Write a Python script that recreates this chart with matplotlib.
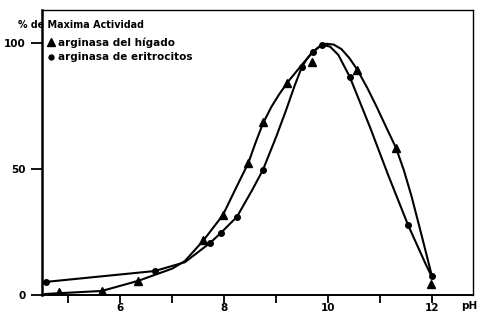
import matplotlib
matplotlib.use('Agg')
import matplotlib.pyplot as plt
from matplotlib.lines import Line2D

liver_ph = [4.82, 5.64, 6.34, 7.59, 7.97, 8.46, 8.74, 9.20, 9.68, 10.55, 11.30, 11.97]
liver_pct = [1.2, 1.6, 5.6, 21.8, 31.7, 52.4, 68.7, 84.0, 92.5, 89.3, 58.3, 4.5]
eryth_ph = [4.57, 6.66, 7.72, 7.93, 8.24, 8.74, 9.49, 9.70, 9.87, 10.41, 11.53, 12.0]
eryth_pct = [5.2, 9.5, 20.6, 24.6, 31.0, 49.6, 90.5, 96.4, 99.2, 86.5, 27.8, 7.5]

# hand drawn curves through the points, also
liver_curve_ph = [4.55, 5.64, 6.34, 7.0, 7.24, 7.59, 7.97, 8.2, 8.46, 8.6, 8.74, 8.9,
                  9.05, 9.22, 9.49, 9.70, 9.87, 9.95, 10.1, 10.25, 10.4, 10.55, 10.75,
                  10.93, 11.1, 11.3, 11.45, 11.6, 11.8, 12.0]
liver_curve_pct = [0.4, 1.6, 5.6, 10.5, 13.5, 21.5, 31.7, 41.5, 52.4, 60.5, 68.0, 74.5,
                   79.5, 84.5, 91.3, 96.4, 99.2, 99.6, 99.3, 97.5, 94.0, 89.5, 82.0,
                   74.5, 67.0, 58.3, 49.5, 39.0, 23.0, 6.7]
eryth_curve_ph = [4.5, 4.57, 6.66, 7.24, 7.72, 7.93, 8.24, 8.53, 8.74, 9.0, 9.18, 9.35,
                  9.49, 9.6, 9.70, 9.87, 10.03, 10.19, 10.41, 10.8, 11.15, 11.53, 11.86, 12.0]
eryth_curve_pct = [5.0, 5.2, 9.5, 13.0, 20.6, 24.6, 31.0, 41.5, 49.6, 63.0, 73.0, 83.0,
                   90.5, 94.0, 96.4, 99.2, 98.5, 95.2, 86.5, 66.5, 47.5, 27.8, 12.7, 6.7]

x_ticks = [5, 6, 7, 8, 9, 10, 11, 12]
x_labels = ['', '6', '', '8', '', '10', '', '12']
y_ticks = [0, 50, 100]
labels = ['arginasa del hígado', 'arginasa de eritrocitos']

plt.rcParams['font.family'] = ['DejaVu Sans']
plt.rcParams['font.weight'] = 'bold'

fig = plt.figure(figsize=(4.78, 3.22), dpi=100)
ax = fig.add_axes([0.0889, 0.0839, 0.9006, 0.885])

ax.plot(liver_curve_ph, liver_curve_pct, color='black', lw=1.5, solid_joinstyle='round')
ax.plot(eryth_curve_ph, eryth_curve_pct, color='black', lw=1.5, solid_joinstyle='round')
ax.plot(liver_ph, liver_pct, '^', color='black', ms=5.5, ls='none')
ax.plot(eryth_ph, eryth_pct, 'o', color='black', ms=4.0, ls='none')

ax.set_xlim(4.5, 12.78)
ax.set_ylim(0, 113)
ax.set_xticks(x_ticks)
ax.set_xticklabels(x_labels)
ax.set_yticks(y_ticks)
ax.tick_params(axis='both', direction='out', width=1.3, labelsize=7.5)
ax.tick_params(axis='x', length=5.5, pad=0.5)
ax.tick_params(axis='y', length=8, pad=4)

ax.spines['left'].set_linewidth(1.8)
ax.spines['bottom'].set_linewidth(1.4)
ax.spines['top'].set_linewidth(1.0)
ax.spines['right'].set_linewidth(1.0)

handles = [Line2D([], [], marker='^', color='black', ls='none', ms=6),
           Line2D([], [], marker='o', color='black', ls='none', ms=3.5)]
ax.legend(handles, labels, loc='upper left', bbox_to_anchor=(0.012, 0.905), frameon=False,
          fontsize=7.5, handlelength=0.6, handletextpad=0.35, labelspacing=0.45,
          borderpad=0.0, borderaxespad=0)

fig.text(18 / 478, 1 - 25 / 322, '% de Maxima Actividad', fontsize=6.9, va='center', ha='left')
fig.text(469 / 478, 1 - 306 / 322, 'pH', fontsize=7.5, va='center', ha='center')

fig.savefig('out.png', dpi=100)
